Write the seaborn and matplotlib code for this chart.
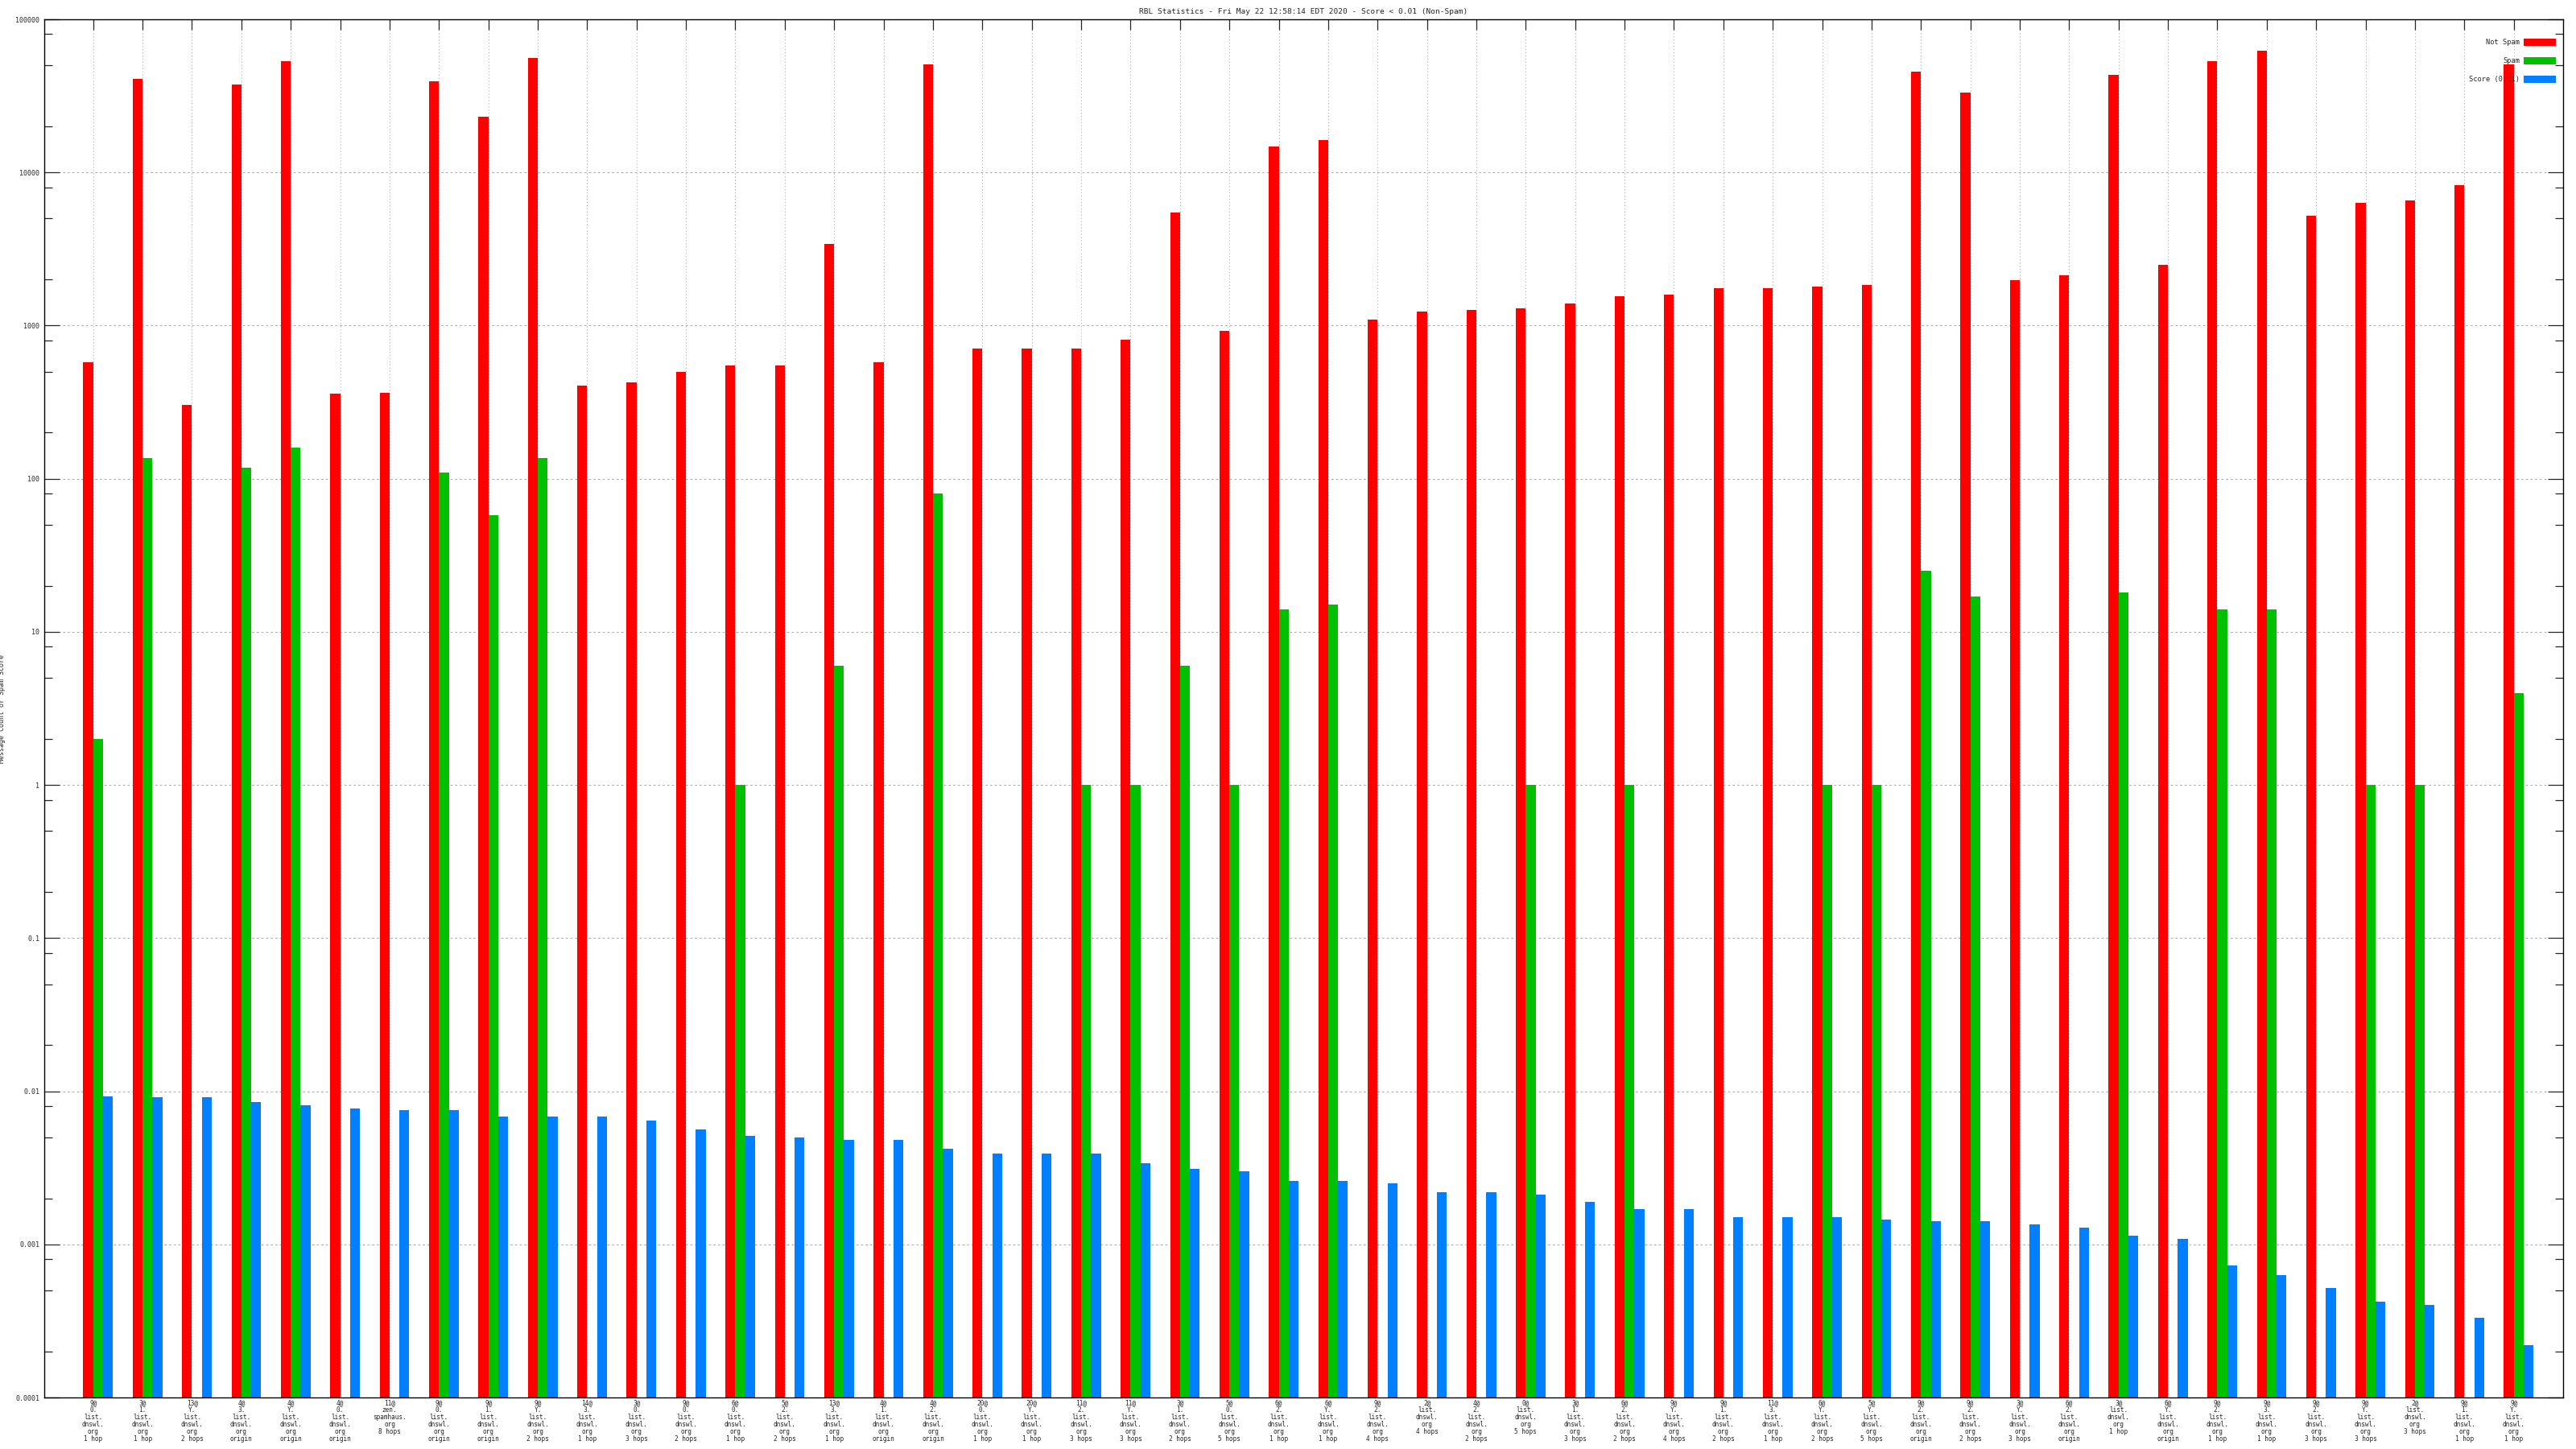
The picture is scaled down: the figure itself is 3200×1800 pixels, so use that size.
import numpy as np
import pandas as pd
import matplotlib
matplotlib.use("Agg")
import matplotlib.pyplot as plt
import seaborn as sns
from matplotlib.patches import Patch
from matplotlib.ticker import FixedLocator, NullFormatter

# ---------------- data ----------------
labels = [
    "9@\n0.\nlist.\ndnswl.\norg\n1 hop",
    "3@\n1.\nlist.\ndnswl.\norg\n1 hop",
    "13@\nY.\nlist.\ndnswl.\norg\n2 hops",
    "4@\n3.\nlist.\ndnswl.\norg\norigin",
    "4@\nY.\nlist.\ndnswl.\norg\norigin",
    "4@\n0.\nlist.\ndnswl.\norg\norigin",
    "11@\nzen.\nspamhaus.\norg\n8 hops",
    "9@\n0.\nlist.\ndnswl.\norg\norigin",
    "9@\n1.\nlist.\ndnswl.\norg\norigin",
    "9@\nY.\nlist.\ndnswl.\norg\n2 hops",
    "14@\n3.\nlist.\ndnswl.\norg\n1 hop",
    "3@\n0.\nlist.\ndnswl.\norg\n3 hops",
    "9@\n0.\nlist.\ndnswl.\norg\n2 hops",
    "6@\n0.\nlist.\ndnswl.\norg\n1 hop",
    "5@\n2.\nlist.\ndnswl.\norg\n2 hops",
    "13@\n3.\nlist.\ndnswl.\norg\n1 hop",
    "4@\n1.\nlist.\ndnswl.\norg\norigin",
    "4@\n2.\nlist.\ndnswl.\norg\norigin",
    "20@\n0.\nlist.\ndnswl.\norg\n1 hop",
    "20@\nY.\nlist.\ndnswl.\norg\n1 hop",
    "11@\n2.\nlist.\ndnswl.\norg\n3 hops",
    "11@\nY.\nlist.\ndnswl.\norg\n3 hops",
    "3@\n1.\nlist.\ndnswl.\norg\n2 hops",
    "5@\n0.\nlist.\ndnswl.\norg\n5 hops",
    "6@\n2.\nlist.\ndnswl.\norg\n1 hop",
    "6@\nY.\nlist.\ndnswl.\norg\n1 hop",
    "9@\n2.\nlist.\ndnswl.\norg\n4 hops",
    "2@\nlist.\ndnswl.\norg\n4 hops",
    "4@\n2.\nlist.\ndnswl.\norg\n2 hops",
    "0@\nlist.\ndnswl.\norg\n5 hops",
    "3@\n1.\nlist.\ndnswl.\norg\n3 hops",
    "6@\n2.\nlist.\ndnswl.\norg\n2 hops",
    "9@\nY.\nlist.\ndnswl.\norg\n4 hops",
    "9@\n1.\nlist.\ndnswl.\norg\n2 hops",
    "11@\n3.\nlist.\ndnswl.\norg\n1 hop",
    "6@\nY.\nlist.\ndnswl.\norg\n2 hops",
    "5@\nY.\nlist.\ndnswl.\norg\n5 hops",
    "9@\n2.\nlist.\ndnswl.\norg\norigin",
    "9@\n2.\nlist.\ndnswl.\norg\n2 hops",
    "3@\nY.\nlist.\ndnswl.\norg\n3 hops",
    "6@\n2.\nlist.\ndnswl.\norg\norigin",
    "3@\nlist.\ndnswl.\norg\n1 hop",
    "6@\nY.\nlist.\ndnswl.\norg\norigin",
    "9@\n2.\nlist.\ndnswl.\norg\n1 hop",
    "9@\n3.\nlist.\ndnswl.\norg\n1 hop",
    "9@\n2.\nlist.\ndnswl.\norg\n3 hops",
    "9@\nY.\nlist.\ndnswl.\norg\n3 hops",
    "2@\nlist.\ndnswl.\norg\n3 hops",
    "9@\n1.\nlist.\ndnswl.\norg\n1 hop",
    "9@\nY.\nlist.\ndnswl.\norg\n1 hop",
]

not_spam = [575, 40600, 303, 37700, 53000, 360, 365, 39600, 23000, 56000,
            405, 428, 496, 550, 550, 3400, 575, 50500, 705, 705,
            705, 810, 5500, 920, 14700, 16300, 1090, 1240, 1270, 1300,
            1400, 1550, 1590, 1750, 1750, 1790, 1850, 45800, 33300, 1990,
            2140, 43600, 2480, 53000, 62000, 5200, 6300, 6600, 8300, 50500]

nan = np.nan
spam = [2, 137, nan, 118, 160, nan, nan, 110, 58, 137,
        nan, nan, nan, 1, nan, 6, nan, 80, nan, nan,
        1, 1, 6, 1, 14, 15, nan, nan, nan, 1,
        nan, 1, nan, nan, nan, 1, 1, 25, 17, nan,
        nan, 18, nan, 14, 14, nan, 1, 1, nan, 4]

score = [0.0093, 0.0091, 0.0091, 0.0085, 0.0081, 0.0077, 0.0075, 0.0075, 0.0068, 0.0068,
         0.0068, 0.0064, 0.0056, 0.0051, 0.0050, 0.0048, 0.0048, 0.0042, 0.0039, 0.0039,
         0.0039, 0.0034, 0.0031, 0.0030, 0.0026, 0.0026, 0.0025, 0.0022, 0.0022, 0.0021,
         0.0019, 0.0017, 0.0017, 0.0015, 0.0015, 0.0015, 0.00146, 0.00142, 0.00142, 0.00135,
         0.00129, 0.00114, 0.00108, 0.00073, 0.00063, 0.00052, 0.00042, 0.00040, 0.00033, 0.00022]

series_names = ["Not Spam", "Spam", "Score (0..1)"]
series_colors = ["#ff0000", "#00c000", "#0080ff"]
title = "RBL Statistics - Fri May 22 12:58:14 EDT 2020 - Score < 0.01 (Non-Spam)"
ytick_vals = [1e-4, 1e-3, 1e-2, 1e-1, 1, 10, 100, 1000, 10000, 100000]
ytick_labels = ["0.0001", "0.001", "0.01", "0.1", "1", "10", "100", "1000", "10000", "100000"]

# ---------------- frame ----------------
n = len(labels)
pos = np.arange(n)
df = pd.DataFrame({
    "pos": np.tile(pos, 3),
    "value": np.concatenate([not_spam, spam, score]),
    "series": np.repeat(series_names, n),
})

sns.set_style("white")
plt.rcParams["font.family"] = ["DejaVu Sans Mono", "DejaVu Sans"]

W, H = 3200, 1800
fig = plt.figure(figsize=(32, 18), dpi=100)
L, R, T, B = 55, 3184, 24, 1736
ax = fig.add_axes([L / W, 1 - B / H, (R - L) / W, (B - T) / H])

sns.barplot(data=df, x="pos", y="value", hue="series", hue_order=series_names,
            palette=series_colors, dodge=True, width=0.6, errorbar=None,
            linewidth=0, saturation=1, legend=False, ax=ax)

ax.set_yscale("log")
ax.set_ylim(1e-4, 1e5)
ax.set_xlim(-1.09, 49.9)

# y ticks
ax.yaxis.set_major_locator(FixedLocator(ytick_vals))
ax.set_yticklabels(ytick_labels)
minor = [m * v for v in ytick_vals[:-1] for m in (2, 5, 8)]
ax.yaxis.set_minor_locator(FixedLocator(minor))
ax.yaxis.set_minor_formatter(NullFormatter())
ax.tick_params(axis="y", which="major", direction="in", length=13.7, width=0.9,
               left=True, right=True, labelsize=6, pad=4.3)
ax.tick_params(axis="y", which="minor", direction="in", length=7, width=0.9,
               left=True, right=True)

# x ticks
ax.set_xticks(pos - 0.1)
ax.set_xticklabels(labels, fontsize=5.6, linespacing=1.0)
ax.tick_params(axis="x", which="major", direction="in", length=9, width=0.9,
               top=True, bottom=False, labelbottom=True, pad=1.5)

ax.set_xlabel("")
ax.set_ylabel("Message Count or Spam Score", fontsize=6)
ax.yaxis.set_label_coords((7 - L) / (R - L), 0.5)

# grid
ax.set_axisbelow(True)
ax.grid(axis="y", which="major", color="#a8a8a8", linestyle=(0, (2.5, 3.0)), linewidth=0.75)
ax.grid(axis="x", which="major", color="#b4b4b4", linestyle=(0, (1.2, 2.6)), linewidth=0.75)

for s in ax.spines.values():
    s.set_visible(True)
    s.set_color("black")
    s.set_linewidth(1.0)

# legend
handles = [Patch(facecolor=c, edgecolor="none", label=l) for l, c in zip(series_names, series_colors)]
fig.legend(handles=handles, loc="upper right", bbox_to_anchor=(3175 / W, 1 - 48 / H),
           frameon=False, markerfirst=False, fontsize=6.2, handlelength=4.6,
           handleheight=1.25, labelspacing=1.55, handletextpad=0.6,
           borderpad=0, borderaxespad=0)

fig.text((L + R) / 2 / W, 1 - 14.5 / H, title, ha="center", va="center", fontsize=6.8)

fig.savefig("out.png", dpi=100)
